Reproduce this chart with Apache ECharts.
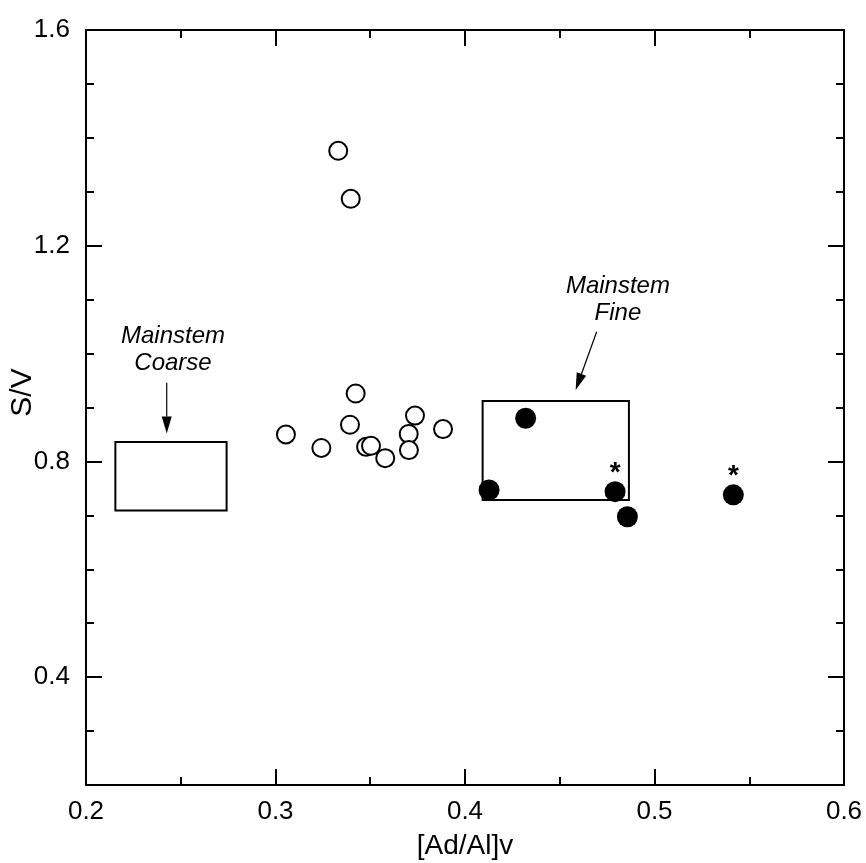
<!DOCTYPE html>
<html>
<head>
<meta charset="utf-8">
<script src="https://cdn.jsdelivr.net/npm/echarts@6/dist/echarts.min.js"></script>
<style>
  html, body { margin: 0; padding: 0; background: #fff; }
  #chart { width: 866px; height: 863px; }
</style>
</head>
<body>
<div id="chart"></div>
<script>
// open circles
var openX = [0.3331, 0.3397, 0.3423, 0.3736, 0.3393, 0.3055, 0.3884, 0.3703, 0.3242, 0.3478, 0.3504, 0.3579, 0.3704];
var openY = [1.376, 1.287, 0.926, 0.885, 0.868, 0.850, 0.860, 0.851, 0.825, 0.827, 0.829, 0.806, 0.821];

// filled circles, starred ones flagged
var fillX = [0.4320, 0.4127, 0.4792, 0.4857, 0.5416];
var fillY = [0.880, 0.747, 0.744, 0.6975, 0.738];
var fillStar = [false, false, true, false, true];

// boxes [x1, y1, x2, y2]
var coarseBox = [0.2155, 0.836, 0.2742, 0.709];
var fineBox = [0.4093, 0.912, 0.4865, 0.7285];

// annotation text and arrows [xFrom, yFrom, xTo, yTo]
var noteNames = ['Mainstem\nCoarse', 'Mainstem\nFine'];
var noteX = [0.2459, 0.4807];
var noteY = [1.0066, 1.099];
var arrows = [
  [0.2426, 0.946, 0.2426, 0.852],
  [0.4695, 1.0405, 0.4584, 0.9324]
];

var yMajor = [0.4, 0.8, 1.2, 1.6];

var font = 'Liberation Sans, Arial, sans-serif';

function xAxisOpt(pos, showLabel) {
  return {
    type: 'value', position: pos, min: 0.2, max: 0.6, interval: 0.1,
    axisLine: { show: true, onZero: false, lineStyle: { color: '#000', width: 2 } },
    axisTick: { show: true, inside: true, length: 16, lineStyle: { color: '#000', width: 2 } },
    minorTick: { show: true, splitNumber: 2, length: 8, lineStyle: { color: '#000', width: 2 } },
    splitLine: { show: false },
    axisLabel: {
      show: showLabel, color: '#000', fontSize: 26, fontFamily: font, margin: 14,
      formatter: function (v) { return v.toFixed(1); }
    },
    name: showLabel ? '[Ad/Al]v' : '',
    nameLocation: 'middle', nameGap: 47,
    nameTextStyle: { color: '#000', fontSize: 28, fontFamily: font }
  };
}

function yMinorOpt(pos) {
  return {
    type: 'value', position: pos, min: 0.2, max: 1.6, interval: 0.1,
    axisLine: { show: true, onZero: false, lineStyle: { color: '#000', width: 2 } },
    axisTick: { show: true, inside: true, length: 8, lineStyle: { color: '#000', width: 2 } },
    splitLine: { show: false },
    axisLabel: { show: false }
  };
}

function yMajorOpt(pos, showLabel) {
  return {
    type: 'value', position: pos, min: 0.2, max: 1.6,
    axisLine: { show: false },
    axisTick: { show: true, inside: true, length: 16, customValues: yMajor, lineStyle: { color: '#000', width: 2 } },
    splitLine: { show: false },
    axisLabel: {
      show: showLabel, customValues: yMajor, color: '#000', fontSize: 26, fontFamily: font, margin: 16,
      formatter: function (v) { return v.toFixed(1); }
    },
    name: showLabel ? 'S/V' : '',
    nameLocation: 'middle', nameGap: 48, nameRotate: 90, nameMoveOverlap: false,
    nameTextStyle: { color: '#000', fontSize: 30, fontFamily: font, padding: [0, 0, 0, 30] }
  };
}

var openData = openX.map(function (x, i) { return [x, openY[i]]; });
var fillData = fillX.map(function (x, i) {
  return {
    value: [x, fillY[i]],
    label: { show: fillStar[i] }
  };
});
var noteData = noteNames.map(function (n, i) { return { name: n, value: [noteX[i], noteY[i]] }; });

// shaft plus a narrow filled head, tip exactly on the end point
function renderArrow(params, api) {
  var p0 = api.coord([api.value(0), api.value(1)]);
  var p1 = api.coord([api.value(2), api.value(3)]);
  var dx = p1[0] - p0[0], dy = p1[1] - p0[1];
  var len = Math.sqrt(dx * dx + dy * dy);
  var ux = dx / len, uy = dy / len;
  var headLen = 17, headHalf = 5;
  var bx = p1[0] - ux * headLen, by = p1[1] - uy * headLen;
  return {
    type: 'group',
    children: [
      {
        type: 'line',
        shape: { x1: p0[0], y1: p0[1], x2: bx, y2: by },
        style: { stroke: '#000', lineWidth: 1.2 }
      },
      {
        type: 'polygon',
        shape: { points: [p1, [bx - uy * headHalf, by + ux * headHalf], [bx + uy * headHalf, by - ux * headHalf]] },
        style: { fill: '#000' }
      }
    ]
  };
}

var myChart = echarts.init(document.getElementById('chart'), null, { renderer: 'canvas' });

var option = {
  backgroundColor: '#fff',
  animation: false,
  grid: { left: 86, right: 22, top: 30, bottom: 78, containLabel: false, outerBoundsMode: 'none' },
  xAxis: [xAxisOpt('bottom', true), xAxisOpt('top', false)],
  yAxis: [yMinorOpt('left'), yMajorOpt('left', true), yMinorOpt('right'), yMajorOpt('right', false)],
  series: [
    {
      type: 'scatter',
      data: openData,
      symbol: 'circle',
      symbolSize: 18,
      itemStyle: { color: '#fff', borderColor: '#000', borderWidth: 2, opacity: 1 },
      z: 3
    },
    {
      type: 'scatter',
      data: fillData,
      symbol: 'circle',
      symbolSize: 21,
      itemStyle: { color: '#000', opacity: 1 },
      label: {
        show: false, formatter: '*', position: 'top', distance: -6,
        color: '#000', fontSize: 28, fontWeight: 'bold', fontFamily: font
      },
      z: 4
    },
    {
      type: 'scatter',
      data: noteData,
      symbolSize: 0,
      itemStyle: { opacity: 1 },
      label: {
        show: true, position: 'inside', formatter: '{b}',
        color: '#000', fontSize: 24, fontStyle: 'italic', fontFamily: font, lineHeight: 27
      },
      markArea: {
        silent: true,
        itemStyle: { color: 'rgba(0,0,0,0)', borderColor: '#000', borderWidth: 2 },
        data: [
          [{ coord: [coarseBox[0], coarseBox[1]] }, { coord: [coarseBox[2], coarseBox[3]] }],
          [{ coord: [fineBox[0], fineBox[1]] }, { coord: [fineBox[2], fineBox[3]] }]
        ]
      }
    },
    {
      type: 'custom',
      data: arrows,
      renderItem: renderArrow,
      silent: true,
      z: 5
    }
  ]
};

myChart.setOption(option);
window.addEventListener('resize', myChart.resize);
</script>
</body>
</html>
